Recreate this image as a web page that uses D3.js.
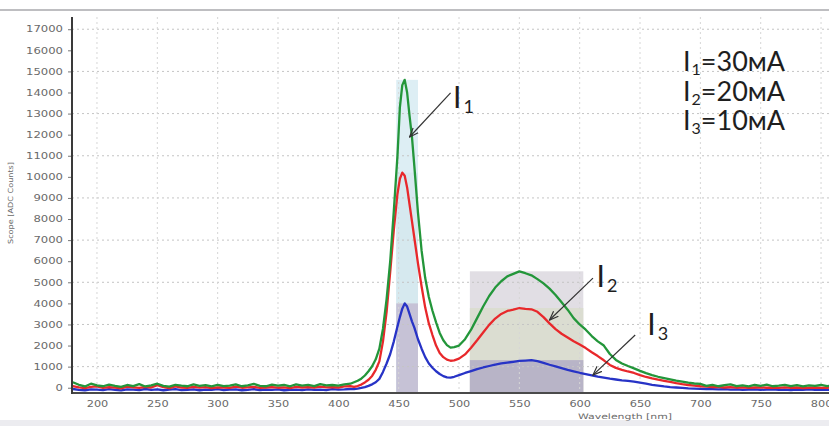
<!DOCTYPE html>
<html>
<head>
<meta charset="utf-8">
<script src="https://cdn.jsdelivr.net/npm/d3@7"></script>
<style>
  body { margin: 0; background: #fff; }
  svg { display: block; }
</style>
</head>
<body>
<div id="container"></div>
<script>
/* CONSTANTS AND GLOBALS */
const width = 829,
  height = 426,
  margin = { top: 17, bottom: 33, left: 72, right: 0 };

/* DATA */
const wavelengths = [
  180,185,190,195,200,205,210,215,220,225,230,235,240,245,250,255,260,265,270,275,
  280,285,290,295,300,305,310,315,320,325,330,335,340,345,350,355,360,365,370,375,
  380,385,390,395,400,405,410,
  413,416,419,422,425,428,431,434,437,440,443,446,449,451,453,455,457,459,461,463,
  466,469,472,475,478,481,484,487,490,493,496,500,
  505,510,515,520,525,530,535,540,545,550,555,560,565,570,575,580,585,590,595,600,
  605,610,615,620,625,630,635,640,645,650,655,660,665,670,675,680,685,690,695,700,
  705,710,715,720,725,730,735,740,745,750,755,760,765,770,775,780,785,790,795,800,805,810
];

const green30 = [
  260,140,60,190,110,70,150,90,40,130,80,170,60,110,190,90,50,140,100,70,
  160,90,120,60,140,80,100,160,70,110,180,90,70,150,100,130,70,160,100,140,
  80,170,110,130,100,160,190,
  260,330,430,580,780,1020,1350,1850,2800,4200,6000,8400,11000,13300,14350,14600,14000,12900,11900,10500,
  8300,6500,5200,4300,3650,3100,2600,2250,2020,1900,1930,2000,
  2300,2750,3300,3850,4350,4750,5050,5280,5400,5520,5430,5330,5150,4950,4700,4400,4050,3700,3300,3000,
  2750,2450,2200,2000,1600,1320,1150,1030,920,800,690,600,520,460,400,340,290,240,200,180,
  90,140,70,120,160,80,110,60,130,90,150,70,100,140,80,120,60,110,90,130,80,100
];

const red20 = [
  80,20,-20,40,60,-10,30,0,-30,50,20,-10,40,10,120,30,-20,60,10,-10,
  40,0,30,-20,20,10,-10,50,0,20,40,-10,10,30,0,20,-20,40,10,30,
  0,50,20,30,10,60,80,
  40,80,150,250,380,560,850,1250,2200,3600,5500,7500,9200,9900,10200,10050,9500,8700,7900,7100,
  5900,4800,3800,3050,2500,2000,1650,1450,1330,1280,1300,1380,
  1580,1900,2250,2620,2980,3280,3500,3640,3700,3780,3740,3720,3600,3350,3050,2780,2560,2380,2200,2050,
  1880,1680,1500,1300,1080,940,850,770,700,600,510,440,380,330,280,220,170,130,100,70,
  50,30,40,10,30,0,20,-10,10,20,0,10,-10,20,0,10,-20,0,10,-10,0,10
];

const blue10 = [
  -60,-100,-120,-80,-90,-110,-70,-100,-130,-80,-90,-110,-60,-100,-80,-120,-90,-70,-110,-100,
  -80,-120,-90,-100,-70,-110,-90,-80,-120,-100,-70,-110,-90,-100,-80,-120,-100,-90,-110,-80,
  -100,-90,-110,-70,-90,-80,-60,
  -60,-40,-10,30,90,160,260,420,750,1150,1600,2200,2900,3350,3750,4000,3850,3500,3150,2850,
  2300,1850,1450,1150,950,780,650,550,490,480,520,600,
  700,790,880,960,1030,1100,1150,1190,1230,1270,1290,1310,1260,1180,1090,1010,930,850,780,710,
  650,590,530,480,430,390,350,320,290,240,190,140,100,60,30,10,-10,-30,-40,-50,
  -60,-70,-80,-70,-90,-80,-100,-90,-80,-100,-90,-80,-100,-90,-110,-90,-100,-80,-100,-90,-100,-90
];

const seriesNames = ["I3", "I2", "I1"];
const yTicks = [0,1000,2000,3000,4000,5000,6000,7000,8000,9000,10000,11000,12000,13000,14000,15000,16000,17000];
const yGrid = [1000,3000,5000,7000,9000,11000,13000,15000,17000];
const xTicks = [200,250,300,350,400,450,500,550,600,650,700,750,800];
const bandRanges = [[448, 466], [509, 603]];
const legendLines = [["1", "=30мА"], ["2", "=20мА"], ["3", "=10мА"]];
const annotations = [
  { sub: "1", tail: [493, 13980], tip: [459, 11890], text: [495, 13270] },
  { sub: "2", tail: [611, 5200], tip: [575, 3210], text: [614, 4776] },
  { sub: "3", tail: [646, 2500], tip: [611, 600], text: [656, 2500] }
];

/* STYLES */
const lineColors = { I1: "#23963a", I2: "#e8282b", I3: "#2733c6" };
const bandColors = [
  { I1: "#ddeef4", I2: "#d6e9ef", I3: "#c6c2d6" },
  { I1: "#e1dee4", I2: "#dbddd1", I3: "#b8b4c7" }
];
const font = "Lato, 'Open Sans', sans-serif";

const series = [
  { name: "I1", values: green30 },
  { name: "I2", values: red20 },
  { name: "I3", values: blue10 }
];

/* SCALES */
const xScale = d3.scaleLinear()
  .domain([179.3, 806.6])
  .range([margin.left, width - margin.right]);

const yScale = d3.scaleLinear()
  .domain([-250, 17580])
  .range([height - margin.bottom, margin.top]);

/* HTML ELEMENTS */
const svg = d3.select("#container")
  .append("svg")
  .attr("width", width)
  .attr("height", height);

// frame bits
svg.append("line")
  .attr("x1", 0).attr("x2", width)
  .attr("y1", 10).attr("y2", 10)
  .attr("stroke", "#a9a9ad").attr("stroke-width", 1.5);

svg.append("rect")
  .attr("x", 0).attr("y", 420)
  .attr("width", width).attr("height", height - 420)
  .attr("fill", "#ececf0");

svg.append("clipPath").attr("id", "plot")
  .append("rect")
  .attr("x", margin.left).attr("y", margin.top)
  .attr("width", width - margin.left - margin.right)
  .attr("height", height - margin.top - margin.bottom);

const plot = svg.append("g").attr("clip-path", "url(#plot)");

// integration bands
bandRanges.forEach((range, i) => {
  const inBand = wavelengths.map((w, j) => j).filter(j => wavelengths[j] >= range[0] && wavelengths[j] <= range[1]);
  series.forEach(s => {
    const top = d3.max(inBand, j => s.values[j]);
    plot.append("rect")
      .attr("x", xScale(range[0]))
      .attr("width", xScale(range[1]) - xScale(range[0]))
      .attr("y", yScale(top))
      .attr("height", yScale.range()[0] - yScale(top))
      .attr("fill", bandColors[i][s.name]);
  });
});

// grid
plot.selectAll(".hgrid")
  .data(yGrid)
  .join("line")
  .attr("x1", margin.left).attr("x2", width)
  .attr("y1", d => yScale(d)).attr("y2", d => yScale(d))
  .attr("stroke", "#c4c4c4")
  .attr("stroke-dasharray", "2,3");

plot.selectAll(".vgrid")
  .data(xTicks)
  .join("line")
  .attr("x1", d => xScale(d)).attr("x2", d => xScale(d))
  .attr("y1", margin.top).attr("y2", height - margin.bottom)
  .attr("stroke", "#d6d6d6")
  .attr("stroke-dasharray", "2,3");

// spectra
const line = d3.line()
  .x((d, i) => xScale(wavelengths[i]))
  .y(d => yScale(d));

seriesNames.forEach(name => {
  const s = series.find(d => d.name === name);
  plot.append("path")
    .attr("d", line(s.values))
    .attr("fill", "none")
    .attr("stroke", lineColors[name])
    .attr("stroke-width", 2.3)
    .attr("stroke-linejoin", "round");
});

// axes
const yAxis = d3.axisLeft(yScale)
  .tickValues(yTicks)
  .tickSize(4)
  .tickPadding(5)
  .tickFormat(d3.format("d"));

svg.append("g")
  .attr("transform", `translate(${margin.left},0)`)
  .call(yAxis)
  .call(g => g.select(".domain").remove())
  .call(g => g.selectAll(".tick line").attr("stroke", "#777"))
  .call(g => g.selectAll("text")
    .attr("fill", "#6a6a6a")
    .attr("font-family", "'DejaVu Sans', sans-serif")
    .attr("font-size", 8.5)
    .attr("textLength", d => String(d).length * 7.4)
    .attr("lengthAdjust", "spacingAndGlyphs"));

const xAxis = d3.axisBottom(xScale)
  .tickValues(xTicks)
  .tickSize(0)
  .tickPadding(8)
  .tickFormat(d3.format("d"));

svg.append("g")
  .attr("transform", `translate(0,${height - margin.bottom})`)
  .call(xAxis)
  .call(g => g.select(".domain").remove())
  .call(g => g.selectAll("text")
    .attr("fill", "#6a6a6a")
    .attr("font-family", "'DejaVu Sans', sans-serif")
    .attr("font-size", 8.5)
    .attr("textLength", d => String(d).length * 7.2)
    .attr("lengthAdjust", "spacingAndGlyphs"));

svg.append("line")
  .attr("x1", margin.left).attr("x2", width)
  .attr("y1", height - margin.bottom).attr("y2", height - margin.bottom)
  .attr("stroke", "#4a4a4a").attr("stroke-width", 2);

svg.append("line")
  .attr("x1", margin.left).attr("x2", margin.left)
  .attr("y1", margin.top).attr("y2", height - margin.bottom + 1)
  .attr("stroke", "#3a3a3a").attr("stroke-width", 2);

// axis titles
svg.append("text")
  .attr("transform", "translate(13,203) rotate(-90)")
  .attr("text-anchor", "middle")
  .attr("font-family", "'DejaVu Sans', sans-serif")
  .attr("font-size", 7)
  .attr("fill", "#6a6a6a")
  .attr("textLength", 82)
  .attr("lengthAdjust", "spacingAndGlyphs")
  .text("Scope [ADC Counts]");

svg.append("text")
  .attr("x", 625).attr("y", 419)
  .attr("text-anchor", "middle")
  .attr("font-family", "'DejaVu Sans', sans-serif")
  .attr("font-size", 7.5)
  .attr("fill", "#6a6a6a")
  .attr("textLength", 94)
  .attr("lengthAdjust", "spacingAndGlyphs")
  .text("Wavelength [nm]");

// arrows and labels
svg.append("defs").append("marker")
  .attr("id", "arrow")
  .attr("viewBox", "0 -5 10 10")
  .attr("refX", 9).attr("refY", 0)
  .attr("markerWidth", 10).attr("markerHeight", 10)
  .attr("markerUnits", "userSpaceOnUse")
  .attr("orient", "auto")
  .append("path")
  .attr("d", "M0,-3.5L9,0L0,3.5")
  .attr("fill", "none")
  .attr("stroke", "#333")
  .attr("stroke-width", 1.2);

annotations.forEach(a => {
  svg.append("line")
    .attr("x1", xScale(a.tail[0])).attr("y1", yScale(a.tail[1]))
    .attr("x2", xScale(a.tip[0])).attr("y2", yScale(a.tip[1]))
    .attr("stroke", "#333").attr("stroke-width", 1.2)
    .attr("marker-end", "url(#arrow)");

  const t = svg.append("text")
    .attr("x", xScale(a.text[0])).attr("y", yScale(a.text[1]))
    .attr("font-family", font)
    .attr("font-size", 30)
    .attr("fill", "#1e1e1e")
    .text("I");
  t.append("tspan")
    .attr("font-size", 18)
    .attr("dx", 2)
    .attr("dy", 5)
    .text(a.sub);
});

// legend
legendLines.forEach((l, i) => {
  const t = svg.append("text")
    .attr("x", 683).attr("y", 71 + i * 29.5)
    .attr("font-family", font)
    .attr("font-size", 27)
    .attr("fill", "#1e1e1e")
    .text("I");
  t.append("tspan")
    .attr("font-size", 16)
    .attr("dx", 1)
    .attr("dy", 4)
    .text(l[0]);
  t.append("tspan")
    .attr("dy", -4)
    .text(l[1]);
});
</script>
</body>
</html>
